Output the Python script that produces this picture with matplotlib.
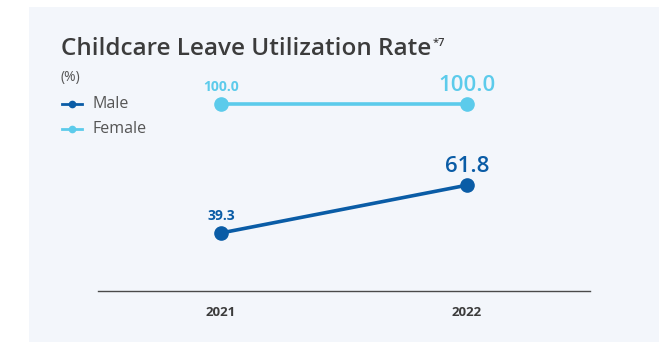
import matplotlib.pyplot as plt
from matplotlib.patches import Rectangle
from matplotlib.lines import Line2D

years = ["2021", "2022"]
male = [39.3, 61.8]
female = [100.0, 100.0]

male_color = "#0a5ca6"
female_color = "#5ccbeb"
text_gray = "#3c3c3c"
panel_color = "#f3f6fb"

W, H = 659, 342
dpi = 100
plt.rcParams["font.family"] = ["Open Sans", "DejaVu Sans"]
fig = plt.figure(figsize=(W / dpi, H / dpi), dpi=dpi)
fig.patch.set_facecolor("white")

# background panel
fig.patches.append(Rectangle((29 / W, 0), 1 - 29 / W, 1 - 7 / H,
                             transform=fig.transFigure, facecolor=panel_color,
                             edgecolor="none", zorder=-5))

# plot area: x from 98 to 590 px, bottom spine at y=291 px
ax = fig.add_axes([98 / W, (H - 291) / H, (590 - 98) / W, (291 - 80) / H])
ax.set_facecolor("none")
x = list(range(len(years)))
ax.set_xlim(-0.5, 1.5)
ppu = 2.125  # pixels per percentage point
ax.set_ylim(100 - (291 - 104) / ppu, 100 + (104 - 80) / ppu)

ax.plot(x, female, color=female_color, lw=2.6, marker="o", ms=9.5, zorder=3,
        solid_capstyle="round", clip_on=False)
ax.plot(x, male, color=male_color, lw=2.6, marker="o", ms=9.5, zorder=3,
        solid_capstyle="round", clip_on=False)

for spine in ["left", "right", "top"]:
    ax.spines[spine].set_visible(False)
ax.spines["bottom"].set_color("#4a4a4a")
ax.spines["bottom"].set_linewidth(1.0)
ax.set_yticks([])
ax.set_xticks(x)
ax.set_xticklabels(years, fontsize=9.5, fontweight="bold", color=text_gray)
ax.tick_params(axis="x", length=0, pad=11)

# value labels: first year small, latest year large
for series, color in [(female, female_color), (male, male_color)]:
    ax.annotate(f"{series[0]:.1f}", (x[0], series[0]), xytext=(0, 7),
                textcoords="offset points", ha="center", va="bottom",
                fontsize=10, fontweight="bold", color=color)
    ax.annotate(f"{series[1]:.1f}", (x[1], series[1]), xytext=(0, 6),
                textcoords="offset points", ha="center", va="bottom",
                fontsize=16, fontweight="semibold", color=color)

# title with footnote mark, and unit
title = fig.text(61 / W, 1 - 55 / H, "Childcare Leave Utilization Rate",
                 fontsize=17.5, fontweight="semibold", color=text_gray,
                 va="baseline")
ax.annotate("*7", xy=(1, 1), xycoords=title, xytext=(1, -1),
            textcoords="offset points", ha="left", va="top",
            fontsize=8, fontweight="semibold", color=text_gray,
            annotation_clip=False)
fig.text(61 / W, 1 - 78 / H, "(%)", fontsize=10, color="#555555", va="center")

# legend
for label, color, ypx in [("Male", male_color, 104), ("Female", female_color, 129)]:
    yy = 1 - ypx / H
    fig.add_artist(Line2D([62 / W, 82 / W], [yy, yy], color=color, lw=2,
                          transform=fig.transFigure))
    fig.add_artist(Line2D([72 / W], [yy], color=color, marker="o", ms=4.5,
                          transform=fig.transFigure))
    fig.text(93 / W, yy, label, fontsize=11.5, color="#555555", va="center")

fig.savefig("out.png", dpi=dpi)
